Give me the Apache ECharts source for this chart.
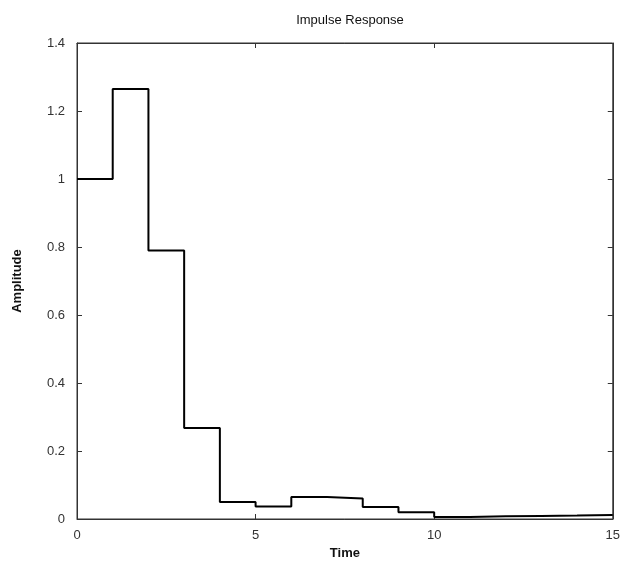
<!DOCTYPE html>
<html>
<head>
<meta charset="utf-8">
<script src="https://cdn.jsdelivr.net/npm/echarts@6/dist/echarts.min.js"></script>
<style>
html,body{margin:0;padding:0;background:#fff;}
#chart{width:623px;height:571px;}
</style>
</head>
<body>
<div id="chart"></div>
<script>
// Sample instants and the impulse response amplitude held over each interval
const times = [0, 1, 2, 3, 4, 5, 6, 7, 8, 9, 10, 11, 12, 13, 14, 15];
const amplitude = [1.0, 1.265, 0.79, 0.268, 0.05, 0.037, 0.065, 0.06, 0.035, 0.02, 0.006, 0.008, 0.009, 0.01, 0.012, 0.012];
const xTicks = [0, 5, 10, 15];
const yTicks = [0, 0.2, 0.4, 0.6, 0.8, 1, 1.2, 1.4];

const chart = echarts.init(document.getElementById('chart'));
const font = 'Liberation Sans, Arial, sans-serif';

// negative length flips the ticks so they point into the plot box
function makeTick() {
  return { show: true, inside: false, length: -5, lineStyle: { color: '#333', width: 1 } };
}
function makeLine() {
  return { show: true, onZero: false, lineStyle: { color: '#333', width: 1 } };
}

chart.setOption({
  animation: false,
  backgroundColor: '#fff',
  title: {
    text: 'Impulse Response',
    left: 345, top: 9, textAlign: 'center',
    textStyle: { fontFamily: font, fontSize: 13, fontWeight: 'normal', color: '#111' }
  },
  grid: { left: 77, right: 10, top: 43, bottom: 52, show: true, borderColor: '#333', borderWidth: 1 },
  xAxis: [{
    type: 'value', min: 0, max: 15, interval: 5, position: 'bottom',
    name: 'Time', nameLocation: 'middle', nameGap: 27,
    nameTextStyle: { fontFamily: font, fontSize: 13, fontWeight: 'bold', color: '#111' },
    axisLine: makeLine(), axisTick: makeTick(), splitLine: { show: false },
    axisLabel: { fontFamily: font, fontSize: 13, color: '#333', margin: 10,
      formatter: v => xTicks.includes(v) ? String(v) : '' }
  }, {
    type: 'value', min: 0, max: 15, interval: 5, position: 'top',
    axisLine: makeLine(), axisTick: makeTick(), splitLine: { show: false },
    axisLabel: { show: false }
  }],
  yAxis: [{
    type: 'value', min: 0, max: 1.4, interval: 0.2, position: 'left',
    name: 'Amplitude', nameLocation: 'middle', nameGap: 53,
    nameTextStyle: { fontFamily: font, fontSize: 13, fontWeight: 'bold', color: '#111' },
    axisLine: makeLine(), axisTick: makeTick(), splitLine: { show: false },
    axisLabel: {
      fontFamily: font, fontSize: 13, color: '#333', margin: 12,
      formatter: v => yTicks.includes(+v.toFixed(1)) ? String(+v.toFixed(1)) : ''
    }
  }, {
    type: 'value', min: 0, max: 1.4, interval: 0.2, position: 'right',
    axisLine: makeLine(), axisTick: makeTick(), splitLine: { show: false },
    axisLabel: { show: false }
  }],
  series: [{
    type: 'line',
    step: 'end',
    xAxisIndex: 0, yAxisIndex: 0,
    data: times.map((t, i) => [t, amplitude[i]]),
    symbol: 'none',
    lineStyle: { color: '#000', width: 2 },
    z: 5
  }, {
    // same samples on the mirrored top/right axes so they carry ticks; not stroked
    type: 'line',
    step: 'end',
    xAxisIndex: 1, yAxisIndex: 1,
    data: times.map((t, i) => [t, amplitude[i]]),
    symbol: 'none',
    lineStyle: { opacity: 0 },
    silent: true
  }]
});
</script>
</body>
</html>
